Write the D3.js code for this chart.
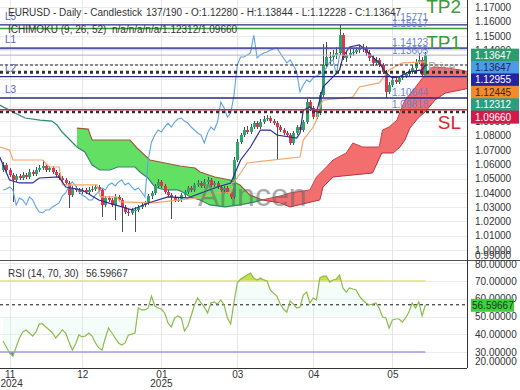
<!DOCTYPE html>
<html><head><meta charset="utf-8">
<script src="https://cdnjs.cloudflare.com/ajax/libs/d3/7.8.5/d3.min.js"></script>
<style>body{margin:0;background:#fff;} svg{display:block;font-family:"Liberation Sans",Arial,sans-serif;}</style>
</head><body><svg id="c" width="520" height="390"></svg>
<script>
// ---------- DATA ----------
const open=[1.0560,1.0595,1.0560,1.0525,1.0490,1.0518,1.0504,1.0525,1.0511,1.0546,
1.0532,1.0560,1.0574,1.0588,1.0560,1.0574,1.0546,1.0525,1.0504,1.0490,
1.0469,1.0385,1.0434,1.0420,1.0406,1.0420,1.0406,1.0420,1.0427,1.0441,
1.0420,1.0315,1.0364,1.0350,1.0315,1.0371,1.0350,1.0301,1.0266,1.0259,
1.0280,1.0280,1.0301,1.0315,1.0329,1.0378,1.0399,1.0448,1.0476,1.0448,
1.0406,1.0385,1.0371,1.0350,1.0350,1.0385,1.0406,1.0434,1.0420,1.0455,
1.0469,1.0448,1.0476,1.0490,1.0455,1.0469,1.0441,1.0420,1.0434,1.0406,
1.0371,1.0630,1.0756,1.0805,1.0840,1.0826,1.0861,1.0889,1.0861,1.0896,
1.0917,1.0924,1.0903,1.0889,1.0861,1.0840,1.0819,1.0805,1.0749,1.0819,
1.0861,1.0840,1.0896,1.1036,1.0994,1.0931,1.0959,1.1085,1.1296,1.1352,
1.1352,1.1366,1.1380,1.1506,1.1345,1.1366,1.1380,1.1387,1.1401,1.1408,
1.1415,1.1380,1.1345,1.1310,1.1331,1.1296,1.1247,1.1107,1.1156,1.1191,
1.1177,1.1205,1.1219,1.1233,1.1247,1.1275,1.1317,1.1331,1.1228];
const close=[1.0595,1.0560,1.0525,1.0490,1.0518,1.0504,1.0525,1.0511,1.0546,1.0532,
1.0560,1.0574,1.0588,1.0560,1.0574,1.0546,1.0525,1.0504,1.0490,1.0469,
1.0385,1.0434,1.0420,1.0406,1.0420,1.0406,1.0420,1.0427,1.0441,1.0420,
1.0315,1.0364,1.0350,1.0315,1.0371,1.0350,1.0301,1.0266,1.0259,1.0280,
1.0280,1.0301,1.0315,1.0329,1.0378,1.0399,1.0448,1.0476,1.0448,1.0406,
1.0385,1.0371,1.0350,1.0350,1.0385,1.0406,1.0434,1.0420,1.0455,1.0469,
1.0448,1.0476,1.0490,1.0455,1.0469,1.0441,1.0420,1.0434,1.0406,1.0371,
1.0630,1.0756,1.0805,1.0840,1.0826,1.0861,1.0889,1.0861,1.0896,1.0917,
1.0924,1.0903,1.0889,1.0861,1.0840,1.0819,1.0805,1.0749,1.0819,1.0861,
1.0840,1.0896,1.1036,1.0994,1.0931,1.0959,1.1085,1.1296,1.1352,1.1352,
1.1366,1.1380,1.1506,1.1345,1.1366,1.1380,1.1387,1.1401,1.1408,1.1415,
1.1380,1.1345,1.1310,1.1331,1.1296,1.1247,1.1107,1.1156,1.1191,1.1177,
1.1205,1.1219,1.1233,1.1247,1.1275,1.1317,1.1331,1.1228,1.13647];
const high=[1.0615,1.0610,1.0575,1.0540,1.0535,1.0530,1.0545,1.0538,1.0565,1.0560,
1.0578,1.0592,1.0630,1.0600,1.0590,1.0588,1.0560,1.0540,1.0520,1.0505,
1.0480,1.0450,1.0446,1.0434,1.0436,1.0433,1.0438,1.0445,1.0458,1.0455,
1.0430,1.0380,1.0378,1.0362,1.0390,1.0385,1.0362,1.0315,1.0285,1.0296,
1.0300,1.0318,1.0330,1.0345,1.0395,1.0415,1.0465,1.0495,1.0490,1.0460,
1.0420,1.0398,1.0385,1.0368,1.0400,1.0422,1.0450,1.0448,1.0472,1.0487,
1.0483,1.0495,1.0510,1.0503,1.0485,1.0482,1.0455,1.0450,1.0446,1.0420,
1.0648,1.0775,1.0822,1.0858,1.0870,1.0880,1.0905,1.0903,1.0915,1.0935,
1.0945,1.0938,1.0918,1.0902,1.0875,1.0852,1.0832,1.0818,1.0835,1.0878,
1.0875,1.0912,1.1055,1.1050,1.1008,1.0975,1.1105,1.1440,1.1460,1.1390,
1.1400,1.1420,1.1573,1.1520,1.1390,1.1420,1.1410,1.1425,1.1430,1.1440,
1.1430,1.1400,1.1365,1.1350,1.1345,1.1310,1.1260,1.1175,1.1210,1.1205,
1.1222,1.1236,1.1250,1.1265,1.1295,1.1340,1.1380,1.1350,1.13844];
const low=[1.0545,1.0542,1.0510,1.0336,1.0478,1.0490,1.0492,1.0498,1.0500,1.0518,
1.0520,1.0545,1.0560,1.0545,1.0548,1.0532,1.0510,1.0490,1.0476,1.0455,
1.0294,1.0372,1.0405,1.0392,1.0395,1.0392,1.0394,1.0408,1.0415,1.0405,
1.0231,1.0300,1.0335,1.0298,1.0210,1.0335,1.0125,1.0250,1.0240,1.0245,
1.0125,1.0265,1.0288,1.0300,1.0315,1.0360,1.0385,1.0432,1.0435,1.0390,
1.0372,1.0216,1.0335,1.0336,1.0338,1.0372,1.0392,1.0405,1.0408,1.0440,
1.0435,1.0436,1.0462,1.0440,1.0443,1.0428,1.0405,1.0408,1.0392,1.0355,
1.0360,1.0615,1.0740,1.0790,1.0810,1.0812,1.0848,1.0845,1.0848,1.0882,
1.0905,1.0888,1.0875,1.0630,1.0825,1.0805,1.0790,1.0735,1.0736,1.0805,
1.0826,1.0826,1.0882,1.0975,1.0915,1.0918,1.0945,1.1070,1.1280,1.1300,
1.1330,1.1340,1.1365,1.1330,1.1320,1.1345,1.1360,1.1370,1.1380,1.1390,
1.1360,1.1325,1.1290,1.1295,1.1280,1.1230,1.1064,1.1092,1.1140,1.1160,
1.1162,1.1190,1.1205,1.1218,1.1232,1.1260,1.1300,1.1210,1.12228];
const rsi=[36.2,32.8,29.4,27.7,32.8,37.9,41.3,42.4,40.7,39.0,
41.3,45.8,45.8,44.1,42.4,40.7,37.9,40.1,42.4,40.7,
35.6,31.1,34.5,39.6,38.5,39.0,40.7,39.0,35.1,32.3,
31.1,37.9,43.5,40.7,37.9,35.1,33.9,35.1,39.6,40.1,
40.7,54.8,53.7,53.7,54.8,61.5,55.9,54.8,54.2,52.0,
46.3,44.1,49.2,50.3,49.2,41.8,44.6,50.3,56.5,60.4,
57.6,55.4,52.0,57.6,58.2,57.0,59.3,56.5,49.2,45.8,
58.2,68.9,71.1,72.3,73.4,74.5,71.7,70.6,71.7,70.6,
70.0,64.9,63.2,61.5,57.0,54.2,52.5,58.7,57.0,54.8,
55.4,62.1,63.8,57.6,60.4,59.3,71.7,72.8,72.8,69.4,
70.6,71.1,73.4,66.1,63.8,66.1,65.5,64.9,61.5,59.3,
57.6,56.5,57.0,57.6,54.8,49.7,49.2,43.5,48.0,48.6,
48.6,46.9,49.2,52.5,57.6,54.8,58.2,50.3,56.59667];
// Ichimoku lines: [bar index, price]
const tenkan=[[-1,1.0651],[2,1.0490],[5,1.0469],[9,1.0469],[11,1.0504],[17,1.0511],[19,1.0441],[24,1.0420],[29,1.0350],[34,1.0315],[39,1.0280],[44,1.0329],[50,1.0371],[56,1.0364],[60,1.0399],[65,1.0441],[69,1.0469],[72,1.0630],[75,1.0721],[78,1.0840],[81,1.0840],[83,1.0805],[89,1.0784],[90,1.0819],[91,1.0980],[93,1.1001],[95,1.0966],[97,1.1142],[100,1.1212],[102,1.1261],[103,1.1352],[105,1.1422],[108,1.1436],[110,1.1401],[112,1.1352],[114,1.1310],[116,1.1240],[118,1.1205],[120,1.1212],[123,1.1247],[127,1.1261],[128,1.12955]];
const kijun=[[-1,1.0721],[2,1.0700],[3,1.0630],[12,1.0630],[14,1.0581],[17,1.0581],[18,1.0455],[28.5,1.0455],[29.5,1.0371],[34.5,1.0371],[35.5,1.0336],[45.5,1.0329],[53.5,1.0350],[59.5,1.0364],[65,1.0399],[69,1.0399],[70,1.0476],[72,1.0539],[74,1.0609],[90,1.0651],[91,1.0770],[94,1.0861],[95,1.0910],[96,1.1001],[97,1.1050],[106,1.1071],[108,1.1142],[114,1.1170],[117,1.1261],[121,1.1310],[128,1.1317]];
const spanA=[[-1,1.1015],[3.6,1.0959],[6.7,1.0924],[11.2,1.0910],[14.8,1.0903],[16.4,1.0875],[17.9,1.0826],[20.3,1.0770],[22.4,1.0721],[24.8,1.0686],[27,1.0595],[29.4,1.0560],[32.4,1.0560],[34.8,1.0581],[40,1.0581],[41.5,1.0546],[43.9,1.0504],[46,1.0441],[49,1.0420],[53,1.0420],[55,1.0399],[56.7,1.0371],[59.7,1.0350],[62.7,1.0315],[67.3,1.0301],[71.8,1.0315],[76.4,1.0336],[78.5,1.0350],[84,1.0378],[87,1.0399],[93,1.0420],[95,1.0511],[98,1.0581],[100,1.0630],[104,1.0679],[106,1.0749],[109,1.0721],[114,1.0721],[115,1.0840],[117,1.0861],[119.4,1.0910],[120.3,1.0966],[121.8,1.1050],[124.8,1.1134],[128.5,1.1247],[130.3,1.1282],[134.5,1.1275],[138.5,1.1261],[141.5,1.1247]];
const spanB=[[22.4,1.0854],[25.8,1.0847],[27,1.0770],[38.5,1.0770],[40.6,1.0714],[44.5,1.0630],[47.6,1.0616],[53.6,1.0588],[58.2,1.0574],[59.7,1.0546],[64.2,1.0511],[68.8,1.0490],[71.8,1.0455],[74.8,1.0385],[78.5,1.0350],[84,1.0329],[87,1.0301],[96,1.0350],[97,1.0441],[100,1.0511],[112,1.0539],[114.8,1.0679],[118.2,1.0679],[120.3,1.0721],[121.8,1.0770],[123.3,1.0854],[125.8,1.0924],[127.9,1.0966],[130.9,1.1050],[134,1.1099],[141.5,1.1134]];
const chikouShift=26;
const cloudCross=78.5;
const priceTicks=[1.17,1.16,1.15,1.14,1.13,1.12,1.11,1.10,1.09,1.08,1.07,1.06,1.05,1.04,1.03,1.02,1.01,1.00];
const lowTick=0.99;
const rsiTicks=[80,70,60,50,40,30];
const rsiLowTick=20;
const rsiLevels=[70,30];
const monthTicks=[2,24,48,71,94,118];
const monthLabels=["11","12","01","03","04","05"];
const yearLabels=["2024","","2025","","",""];
const levelValues=[1.15771,1.15517,1.14123,1.13647,1.12955,1.12445,1.12140,1.10644,1.09818,1.09660];
const levelTexts=["1.15771","1.15517","1.14123","1.13605","1.10644","1.09818"];
const levelTextValues=[1.15771,1.15517,1.14123,1.13647,1.10644,1.09818];
const lNames=["L5","L1","L2","L3"];
const lValues=[1.15771,1.14123,1.12140,1.10644];
const tpNames=["TP2","TP1","SL"];
const tpValues=[1.15517,1.14123,1.09660];
const boxValues=[1.13647,1.13647,1.12955,1.12445,1.12312,1.09660];
const rsiLast=56.59667;
const header1a="EURUSD - Daily - Candlestick";
const header1b="137/190 - O:1.12280 - H:1.13844 - L:1.12228 - C:1.13647";
const header2a="ICHIMOKU (9, 26, 52)";
const header2b="n/a/n/a/n/a/1.12312/1.09660";
const rsiHeader="RSI (14, 70, 30)";

// ---------- LAYOUT ----------
const W=520,H=390, plotR=467, mainB=260, rsiB=368;
const svg=d3.select("#c");
const x=d3.scaleLinear().domain([0,close.length-1]).range([3,425.4]);
const y=d3.scaleLinear().domain([1.00,1.17]).range([249.9,7.3]);
const yr=d3.scaleLinear().domain([20,80]).range([369.75,263.25]);
const defs=svg.append("defs");
defs.append("clipPath").attr("id","mainClip").append("rect").attr("x",0).attr("y",0).attr("width",plotR).attr("height",mainB);
defs.append("clipPath").attr("id","rsiClip").append("rect").attr("x",0).attr("y",mainB).attr("width",plotR).attr("height",rsiB-mainB);

// grid
const grid=svg.append("g");
grid.selectAll(".hg").data(priceTicks).join("line").attr("x1",0).attr("x2",plotR)
  .attr("y1",d=>Math.round(y(d))+0.5).attr("y2",d=>Math.round(y(d))+0.5).attr("stroke","#ebebeb");
grid.selectAll(".rg").data([80,70,60,50,40,30]).join("line").attr("x1",0).attr("x2",plotR)
  .attr("y1",d=>Math.round(yr(d))+0.5).attr("y2",d=>Math.round(yr(d))+0.5).attr("stroke","#ebebeb");
grid.selectAll(".vg").data(monthTicks).join("line").attr("y1",0).attr("y2",rsiB)
  .attr("x1",d=>Math.round(x(d))+0.5).attr("x2",d=>Math.round(x(d))+0.5).attr("stroke","#e6e6e6");

const main=svg.append("g").attr("clip-path","url(#mainClip)");
const pt=d3.line().x(d=>x(d[0])).y(d=>y(d[1]));

// cloud
const bStart=spanB[0][0];
const aCloud=spanA.filter(d=>d[0]>=bStart);
const poly=pt(aCloud.concat(spanB.slice().reverse()))+"Z";
const aPath=pt(spanA);
const xr=x(spanA[spanA.length-1][0]), xl=x(spanA[0][0]);
defs.append("clipPath").attr("id","aboveA").append("path").attr("d",aPath+`L${xr},-10L${xl},-10Z`);
defs.append("clipPath").attr("id","belowA").append("path").attr("d",aPath+`L${xr},300L${xl},300Z`);
main.append("path").attr("d",poly).attr("fill","#63e063").attr("clip-path","url(#aboveA)");
main.append("path").attr("d",poly).attr("fill","#f36e6e").attr("clip-path","url(#belowA)");
defs.append("clipPath").attr("id","leftC").append("rect").attr("x",-10).attr("y",-10).attr("width",x(cloudCross)+10).attr("height",300);
defs.append("clipPath").attr("id","rightC").append("rect").attr("x",x(cloudCross)).attr("y",-10).attr("width",300).attr("height",300);
const gl=main.append("g").attr("clip-path","url(#leftC)");
gl.append("path").attr("d",aPath).attr("fill","none").attr("stroke","#2f8a72").attr("stroke-width",1.2);
gl.append("path").attr("d",pt(spanB)).attr("fill","none").attr("stroke","#a3573a").attr("stroke-width",1.2);
const gr=main.append("g").attr("clip-path","url(#rightC)");
gr.append("path").attr("d",aPath).attr("fill","none").attr("stroke","#c8414a").attr("stroke-width",1);
gr.append("path").attr("d",pt(spanB)).attr("fill","none").attr("stroke","#b8333f").attr("stroke-width",1);

// candles
const bars=close.map((c,i)=>({i,o:open[i],h:high[i],l:low[i],c}));
const cg=main.append("g").attr("shape-rendering","crispEdges");
cg.selectAll(".w").data(bars).join("rect").attr("x",d=>Math.round(x(d.i))).attr("width",1)
  .attr("y",d=>y(d.h)).attr("height",d=>Math.max(1,y(d.l)-y(d.h))).attr("fill","#4d4d4d");
cg.selectAll(".b").data(bars).join("rect").attr("x",d=>Math.round(x(d.i))-1).attr("width",3)
  .attr("y",d=>y(Math.max(d.o,d.c))).attr("height",d=>Math.max(1,Math.abs(y(d.o)-y(d.c))))
  .attr("fill",d=>d.c>=d.o?"#2fa56e":"#e3344e");

// ichimoku lines
const chik=close.map((c,i)=>[i-chikouShift,c]).filter(d=>d[0]>=0);
main.append("path").attr("d",pt(chik)).attr("fill","none").attr("stroke","#5ea3e6").attr("stroke-width",1.1);
main.append("path").attr("d",pt(kijun)).attr("fill","none").attr("stroke","#f3a56a").attr("stroke-width",1.2);
main.append("path").attr("d",pt(tenkan)).attr("fill","none").attr("stroke","#2c2c98").attr("stroke-width",1.2);

// level lines
const levelStyle=[
 {c:"#2a2a80",w:1.4},{c:"#3a9a3a",w:1.4},{c:"#5555a8",w:2},{c:"#b5b5b5",w:1},
 {c:"#222",w:1,da:"3,2"},{c:"#333",w:3,da:"3,3"},{c:"#2a2a80",w:1.4},{c:"#2a2a80",w:1.4},
 {c:"#d3252c",w:1.4},{c:"#333",w:2.5,da:"3,3"}];
levelValues.forEach((v,k)=>{
  const s=levelStyle[k];
  main.append("line").attr("x1",0).attr("x2",plotR).attr("y1",y(v)).attr("y2",y(v))
   .attr("stroke",s.c).attr("stroke-width",s.w).attr("stroke-dasharray",s.da||null);
});
// level value texts
const lvOff=[-4,-1.5,-2,-1,-2,-2];
levelTexts.forEach((t,k)=>{
  main.append("text").attr("x",392).attr("y",y(levelTextValues[k])+lvOff[k]).text(t)
   .attr("font-size",10).attr("fill","#6a80d8");
});
lNames.forEach((t,k)=>{
  main.append("text").attr("x",5).attr("y",y(lValues[k])-5).text(t).attr("font-size",10).attr("fill","#5666b5");
});
const tpCol=["#3c9a3c","#3c9a3c","#d8262c"];
const tpOff=[-15,1,17];
tpNames.forEach((t,k)=>{
  main.append("text").attr("x",461).attr("y",y(tpValues[k])+tpOff[k]).attr("text-anchor","end")
   .text(t).attr("font-size",19).attr("fill",tpCol[k]);
});
main.append("text").attr("x",428).attr("y",71).text("Price").attr("font-size",12).attr("fill","#999").attr("opacity",0.8);

// watermark
svg.append("text").attr("x",198).attr("y",206).text("Arincen").attr("font-size",32)
  .attr("fill","#666").attr("opacity",0.55);

// header
const ht=(t,xx,yy)=>svg.append("text").attr("x",xx).attr("y",yy).text(t).attr("font-size",10).attr("fill","#333");
ht(header1a,8,16); ht(header1b,146,16); ht(header2a,8,33); ht(header2b,112,33);

// right price axis
const ax=svg.append("g").attr("transform",`translate(${plotR},0)`)
  .call(d3.axisRight(y).tickValues(priceTicks).tickFormat(d3.format(".5f")).tickSize(0).tickPadding(8));
ax.select(".domain").attr("stroke","#333").attr("d",`M0.5,0V${mainB}`);
ax.selectAll("text").attr("font-size",10).attr("fill","#333").attr("font-family","Liberation Sans, Arial");
svg.append("text").attr("x",plotR+8).attr("y",Math.min(y(lowTick),255)+3.5).text(d3.format(".5f")(lowTick))
  .attr("font-size",10).attr("fill","#333");

// right boxes
const boxCol=[["#2a9d6e","#fff"],["#4a9be8","#1a2a55"],["#2424a0","#fff"],["#f28a2e","#3a2a1a"],["#2b9d80","#fff"],["#d41a4a","#fff"]];
let prev=-100;
boxValues.forEach((v,k)=>{
  let yy=Math.max(y(v),prev+12.4); prev=yy;
  svg.append("rect").attr("x",471).attr("y",yy-6.5).attr("width",48).attr("height",13).attr("fill",boxCol[k][0]);
  svg.append("text").attr("x",475).attr("y",yy+3.5).text(d3.format(".5f")(v)).attr("font-size",10).attr("fill",boxCol[k][1]);
});

// separator lines
svg.append("line").attr("x1",0).attr("x2",W).attr("y1",mainB+0.5).attr("y2",mainB+0.5).attr("stroke","#555");
svg.append("line").attr("x1",0).attr("x2",plotR).attr("y1",rsiB+0.5).attr("y2",rsiB+0.5).attr("stroke","#333");
svg.append("line").attr("x1",plotR+0.5).attr("x2",plotR+0.5).attr("y1",mainB).attr("y2",rsiB).attr("stroke","#333");

// RSI panel
const rg=svg.append("g").attr("clip-path","url(#rsiClip)");
const rPts=rsi.map((v,i)=>[i,v]);
const rline=d3.line().x(d=>x(d[0])).y(d=>yr(d[1]));
defs.append("clipPath").attr("id","ob").append("rect").attr("x",0).attr("y",mainB).attr("width",plotR).attr("height",yr(70)-mainB);
defs.append("clipPath").attr("id","os").append("rect").attr("x",0).attr("y",yr(30)).attr("width",plotR).attr("height",rsiB-yr(30));
const ar=(lvl)=>d3.area().x(d=>x(d[0])).y0(yr(lvl)).y1(d=>yr(d[1]))(rPts);
rg.append("path").attr("d",ar(50)).attr("fill","#dcf8ef").attr("opacity",0.3);
rg.append("path").attr("d",ar(70)).attr("fill","#c3e04f").attr("clip-path","url(#ob)");
rg.append("path").attr("d",ar(30)).attr("fill","#7b6fe0").attr("clip-path","url(#os)");
rg.append("line").attr("x1",0).attr("x2",x(close.length-1)).attr("y1",yr(rsiLevels[0])).attr("y2",yr(rsiLevels[0])).attr("stroke","#e2e07a").attr("stroke-width",1.5);
rg.append("line").attr("x1",0).attr("x2",x(close.length-1)).attr("y1",yr(rsiLevels[1])).attr("y2",yr(rsiLevels[1])).attr("stroke","#a897ee").attr("stroke-width",1.5);
rg.append("line").attr("x1",0).attr("x2",plotR).attr("y1",yr(rsiLast)).attr("y2",yr(rsiLast)).attr("stroke","#111").attr("stroke-dasharray","3,3");
rg.append("path").attr("d",rline(rPts)).attr("fill","none").attr("stroke","#8dbb4a").attr("stroke-width",1.2);
svg.append("text").attr("x",8).attr("y",277).text(rsiHeader).attr("font-size",10).attr("fill","#333");
svg.append("text").attr("x",86).attr("y",277).text(d3.format(".5f")(rsiLast)).attr("font-size",10).attr("fill","#333");
const rax=svg.append("g").attr("transform",`translate(${plotR},0)`)
  .call(d3.axisRight(yr).tickValues(rsiTicks).tickFormat(d3.format(".5f")).tickSize(0).tickPadding(8));
rax.select(".domain").remove();
rax.selectAll("text").attr("font-size",10).attr("fill","#333").attr("font-family","Liberation Sans, Arial");
rax.selectAll(".tick").filter(d=>d===80).attr("transform",`translate(0,${yr(80)+1.5})`);
svg.append("text").attr("x",plotR+8).attr("y",Math.min(yr(rsiLowTick),361)+3.5).text(d3.format(".5f")(rsiLowTick)).attr("font-size",10).attr("fill","#333");
svg.append("rect").attr("x",471).attr("y",yr(rsiLast)-6).attr("width",43).attr("height",13).attr("fill","#3fcf3f");
svg.append("text").attr("x",472).attr("y",yr(rsiLast)+4).text(d3.format(".5f")(rsiLast)).attr("font-size",10).attr("fill","#1a3a1a");

// time axis
const tax=svg.append("g").attr("transform",`translate(0,${rsiB})`)
  .call(d3.axisBottom(x).tickValues(monthTicks).tickFormat((d,i)=>monthLabels[i]).tickSize(0).tickPadding(3));
tax.select(".domain").remove();
tax.selectAll("text").attr("font-size",10).attr("fill","#333").attr("font-family","Liberation Sans, Arial");
monthTicks.forEach((t,i)=>{ if(yearLabels[i]) svg.append("text").attr("x",x(t)+(i===0?2:0)).attr("y",387).attr("text-anchor","middle").text(yearLabels[i]).attr("font-size",10).attr("fill","#333"); });
</script></body></html>
